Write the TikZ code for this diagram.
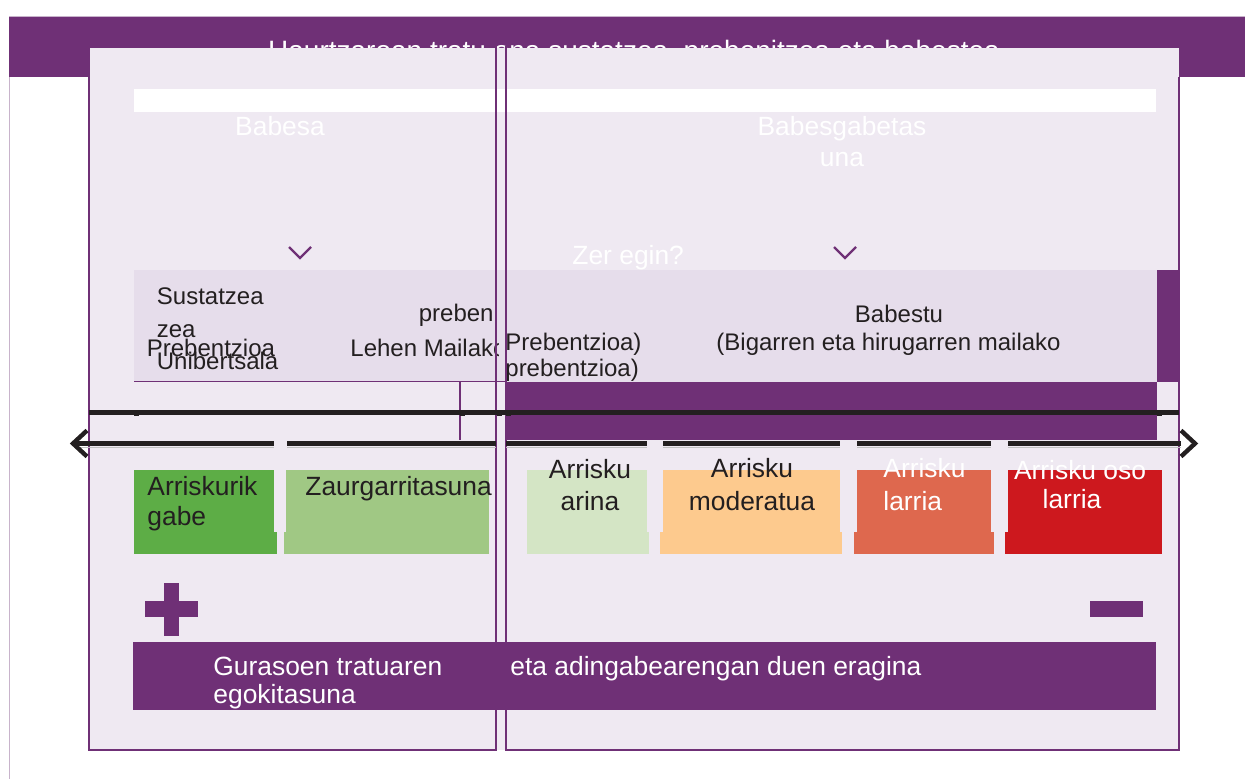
\documentclass[tikz,border=0pt]{standalone}
\usepackage{fontspec}
\setmainfont{Liberation Sans}
\usetikzlibrary{calc}
\definecolor{purp}{HTML}{6F3076}
\definecolor{lilac}{HTML}{EFE9F2}
\definecolor{band}{HTML}{E6DDEB}
\definecolor{framel}{HTML}{C8B3CB}
\definecolor{ink}{HTML}{231F20}
\definecolor{rk1}{HTML}{5DAD46}
\definecolor{rk2}{HTML}{A0C884}
\definecolor{rk3}{HTML}{D4E5C5}
\definecolor{rk4}{HTML}{FDCA8E}
\definecolor{rk5}{HTML}{DE684E}
\definecolor{rk6}{HTML}{CD181E}
\tikzset{
  lbl/.style={inner sep=0pt, text=ink, font=\fontsize{13.2}{15}\selectfont},
  lblw/.style={lbl, text=white},
  small/.style={inner sep=0pt, text=ink, font=\fontsize{12}{14}\selectfont},
}
\begin{document}
\begin{tikzpicture}[x=0.5pt, y=-0.5pt]
\useasboundingbox (0,0) rectangle (1245,779);
% frame and header
\draw[framel, line width=0.6pt] (9.5,779) -- (9.5,16.5) -- (1245,16.5);
\fill[purp] (9,17) rectangle (1245,77);
\node[lblw, anchor=base, font=\fontsize{14}{16}\selectfont] (title) at (634,60.5) {Haurtzaroan tratu ona sustatzea, prebenitzea eta babestea};
% panels
\fill[lilac] (89,48) rectangle (1179,750);
\fill[white] (134,89) rectangle (1156,112);
\node[lblw, anchor=base] (babesa) at (280,136) {Babesa};
\node[lblw, anchor=base] (gabeA) at (842,136) {Babesgabetas};
\node[lblw, anchor=base] (gabeB) at (842,167) {una};
\node[lblw, anchor=base west] (zer) at (572,265) {Zer egin?};
\foreach \x in {300,845}
  \draw[purp, line width=1.1pt] (\x-11,247) -- (\x,258) -- (\x+11,247);
% what to do band
\fill[band] (134,270) rectangle (1157,382);
\fill[purp] (1157,270) rectangle (1178.5,382);
\node[small, anchor=base west] (sust) at (156.5,305) {Sustatzea};
\node[small, anchor=base west] (zea) at (156.5,338) {zea};
\node[small, anchor=base west] (prevA) at (146.5,357) {Prebentzioa};
\node[small, anchor=base west] (unib) at (156.5,370) {Unibertsala};
\node[small, anchor=base east] (preb) at (494,322) {preben};
\node[small, anchor=base west] (lehen) at (350,357) {Lehen Mailako};
\fill[band] (499,270) rectangle (1157,382);
\node[small, anchor=base west] (prevB) at (505,351) {Prebentzioa)};
\node[small, anchor=base west] (prevC) at (505,377) {prebentzioa)};
\node[small, anchor=base] (babestu) at (899,323) {Babestu};
\node[small, anchor=base] (bigarren) at (888.5,351) {(Bigarren eta hirugarren mailako};
\fill[purp] (506,382) rectangle (1157,440);
\draw[purp, line width=0.5pt] (134,382) -- (506,382);
\draw[purp, line width=1pt] (460,382) -- (460,440);
% panel borders
\draw[purp, line width=0.8pt] (89,48) -- (89,750) -- (496,750) -- (496,46);
\draw[purp, line width=0.8pt] (506,46) -- (506,750) -- (1179,750) -- (1179,77);
% scale lines
\draw[ink, line width=2.2pt] (89,412.5) -- (1179,412.5);
\foreach \x in {134,460,497,506,1157}
  \fill[ink] (\x,412) rectangle (\x+5,416);
\coordinate (axl) at (73,443.5);
\coordinate (axr) at (1195,443.5);
\foreach \a/\b in {74/274,287/496,506/646.5,663/840,857/991,1008/1181} {
  \draw[black!25, line width=0.5pt] (\a,447.5) -- (\b,447.5);
  \draw[ink, line width=2.2pt] (\a,443.5) -- (\b,443.5);
}
\draw[ink, line width=2.2pt] ($(axl)+(14,-13)$) -- (axl) -- ($(axl)+(14,13)$);
\draw[ink, line width=2.2pt] ($(axr)+(-14,-13)$) -- (axr) -- ($(axr)+(-14,13)$);
% risk boxes
\foreach \ua/\ub/\la/\lb/\c in {134/274/134/277/rk1, 286/489/284/489/rk2, 527/646.5/527/649/rk3, 663/840/660/842/rk4, 857/991/854/994/rk5, 1008/1162/1005/1162/rk6} {
  \fill[\c] (\ua,470) rectangle (\ub,532);
  \fill[\c] (\la,531.5) rectangle (\lb,553.5);
}
\node[lbl, anchor=base west] (gabeC) at (147,495) {Arriskurik};
\node[lbl, anchor=base west] (gabeD) at (147,525) {gabe};
\node[lbl, anchor=base west] (zaur) at (305,495) {Zaurgarritasuna};
\node[lbl, anchor=base] (arinA) at (590,479) {Arrisku};
\node[lbl, anchor=base] (arinB) at (590,510) {arina};
\node[lbl, anchor=base] (modA) at (752,478) {Arrisku};
\node[lbl, anchor=base] (modB) at (752,510) {moderatua};
\node[lblw, anchor=base west] (larA) at (883,478) {Arrisku};
\node[lblw, anchor=base west] (larB) at (883,510) {larria};
\node[lblw, anchor=base] (osoA) at (1080,480) {Arrisku oso};
\node[lblw, anchor=base] (osoB) at (1072,509) {larria};
% plus and minus
\fill[purp] (164,583) rectangle (179,636);
\fill[purp] (145,601) rectangle (198,617);
\fill[purp] (1090,601) rectangle (1143,617);
% bottom band
\fill[purp] (133,642) rectangle (1156,710);
\node[lblw, anchor=base west] (gurA) at (213,675) {Gurasoen tratuaren};
\node[lblw, anchor=base west] (gurB) at (213,703) {egokitasuna};
\node[lblw, anchor=base west] (eragin) at (510,675) {eta adingabearengan duen eragina};
\end{tikzpicture}
\end{document}
